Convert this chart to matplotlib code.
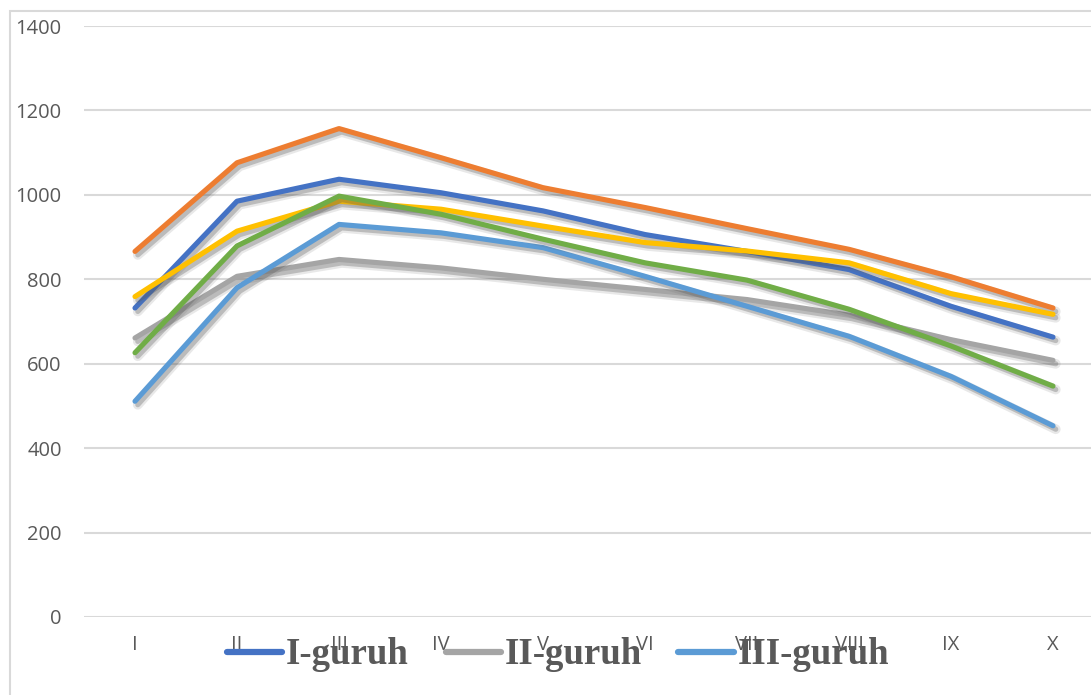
import matplotlib.pyplot as plt
import matplotlib.patheffects as pe
from matplotlib.lines import Line2D
from matplotlib.patches import Rectangle

# Data
months = ['I', 'II', 'III', 'IV', 'V', 'VI', 'VII', 'VIII', 'IX', 'X']
guruh_1 = [732, 985, 1037, 1005, 962, 906, 866, 823, 736, 663]
series_2 = [866, 1076, 1157, 1088, 1017, 970, 920, 871, 806, 732]
guruh_2 = [661, 807, 847, 827, 800, 776, 752, 715, 657, 608]
series_4 = [759, 914, 985, 966, 926, 887, 867, 839, 766, 717]
guruh_3 = [511, 780, 930, 910, 875, 807, 736, 665, 570, 453]
series_6 = [626, 879, 997, 954, 895, 839, 798, 729, 642, 547]

legend_labels = ['I-guruh', 'II-guruh', 'III-guruh']

# Excel palette, drawn in series order
series = [
    (guruh_1, '#4472C4'),
    (series_2, '#ED7D31'),
    (guruh_2, '#A5A5A5'),
    (series_4, '#FFC000'),
    (guruh_3, '#5B9BD5'),
    (series_6, '#70AD47'),
]

fig = plt.figure(figsize=(10.91, 6.95), dpi=100)

# chart border (light gray frame, cut off on the right like the screenshot)
fig.patches.append(Rectangle((10 / 1091, -0.05), 1.1, (695 - 11) / 695 + 0.05,
                             transform=fig.transFigure, fill=False,
                             edgecolor='#D9D9D9', linewidth=1.5))

ax = fig.add_axes([84 / 1091, (695 - 617) / 695, 1020 / 1091, 591 / 695])

x = list(range(len(months)))
# soft drop shadow like the Excel line effect
shadow = [pe.SimpleLineShadow(offset=(2, -2.5), shadow_color='#666666', alpha=0.15,
                              linewidth=7),
          pe.SimpleLineShadow(offset=(2, -2.5), shadow_color='#555555', alpha=0.3),
          pe.Normal()]
for values, color in series:
    ax.plot(x, values, color=color, linewidth=3.7, solid_capstyle='round',
            solid_joinstyle='round', path_effects=shadow)

ax.set_xlim(-0.5, 9.5)
ax.set_ylim(0, 1400)
ax.set_yticks(range(0, 1401, 200))
ax.set_xticks(x)
ax.set_xticklabels(months)
ax.grid(axis='y', color='#D9D9D9', linewidth=1.5)
ax.set_axisbelow(True)
for s in ax.spines.values():
    s.set_visible(False)
ax.tick_params(axis='both', length=0, labelcolor='#595959', labelsize=14.5)
ax.tick_params(axis='y', pad=16)
ax.tick_params(axis='x', pad=13)
for lab in ax.get_xticklabels() + ax.get_yticklabels():
    lab.set_fontfamily('Open Sans')

# legend shows only the three groups
handles = [Line2D([], [], color='#4472C4', linewidth=4.5, solid_capstyle='round'),
           Line2D([], [], color='#A5A5A5', linewidth=4.5, solid_capstyle='round'),
           Line2D([], [], color='#5B9BD5', linewidth=4.5, solid_capstyle='round')]
leg = fig.legend(handles, legend_labels, loc='center',
                 bbox_to_anchor=(558 / 1091, (695 - 655) / 695),
                 ncol=3, frameon=False, handlelength=1.5, handletextpad=0.1,
                 columnspacing=1.0, borderaxespad=0,
                 prop={'family': 'Liberation Serif', 'weight': 'bold', 'size': 26.5})
for t in leg.get_texts():
    t.set_color('#595959')

fig.savefig('out.png', dpi=100)
